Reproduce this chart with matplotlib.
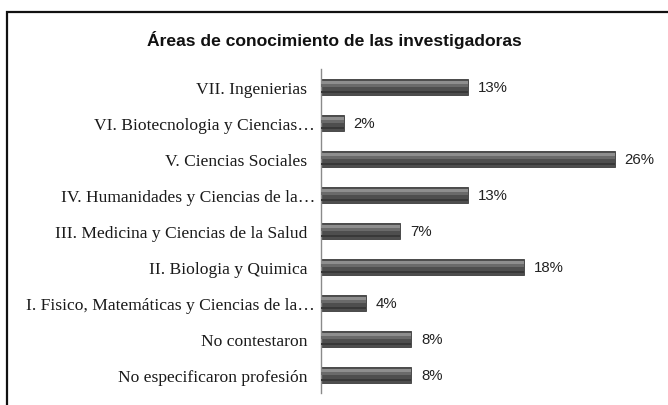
import matplotlib
matplotlib.use("Agg")
import matplotlib.pyplot as plt
from matplotlib.patches import Rectangle
from matplotlib.transforms import ScaledTranslation
import numpy as np

categories = [
    "VII. Ingenierias",
    "VI. Biotecnologia y Ciencias…",
    "V. Ciencias Sociales",
    "IV. Humanidades y Ciencias de la…",
    "III. Medicina y Ciencias de la Salud",
    "II. Biologia y Quimica",
    "I. Fisico, Matemáticas y Ciencias de la…",
    "No contestaron",
    "No especificaron profesión",
]
values = [13, 2, 26, 13, 7, 18, 4, 8, 8]
value_labels = ["13%", "2%", "26%", "13%", "7%", "18%", "4%", "8%", "8%"]
title = "Áreas de conocimiento de las investigadoras"

W, H = 668, 406
fig = plt.figure(figsize=(W / 100, H / 100), dpi=100)
fig.patch.set_facecolor("white")

# outer frame (extends past right/bottom edges as in reference)
fig.add_artist(Rectangle((7 / W, -0.05), 1.2, (H - 13) / H + 0.05,
                         transform=fig.transFigure, fill=False,
                         edgecolor="#111111", linewidth=1.6))

ax_left, ax_right = 321, 660
ax_top, ax_bottom = 70, 394
ax = fig.add_axes([ax_left / W, 1 - ax_bottom / H,
                   (ax_right - ax_left) / W, (ax_bottom - ax_top) / H])
ax.set_facecolor("none")

y = np.arange(len(categories))
bh = 0.42
# base bar
ax.barh(y, values, height=bh, color="#4e4e4e", edgecolor="#3c3c3c",
        linewidth=0.6, zorder=2)
# gradient-like highlight layers
ax.barh(y - bh * 0.30, values, height=bh * 0.20, color="#8e8e8e",
        edgecolor="none", zorder=3)
ax.barh(y - bh * 0.12, values, height=bh * 0.18, color="#6a6a6a",
        edgecolor="none", zorder=3)
ax.barh(y + bh * 0.32, values, height=bh * 0.14, color="#383838",
        edgecolor="none", zorder=3)

ax.set_xlim(0, 30)
ax.set_ylim(len(categories) - 0.5, -0.5)

for s in ["top", "right", "bottom"]:
    ax.spines[s].set_visible(False)
ax.spines["left"].set_color("#8a8a8a")
ax.spines["left"].set_linewidth(1.0)
ax.set_xticks([])
ax.set_yticks(y)
ax.set_yticklabels(categories, family="Liberation Serif", fontsize=12.6,
                   color="#1a1a1a")
ax.tick_params(axis="y", length=0, pad=10)
# truncated labels sit closer to the axis, as in the reference
for t in ax.get_yticklabels():
    if t.get_text().endswith("…"):
        t.set_transform(t.get_transform() +
                        ScaledTranslation(8 / 100, 0, fig.dpi_scale_trans))

for yi, v, lab in zip(y, values, value_labels):
    ax.annotate(lab, (v, yi), xytext=(7, 0), textcoords="offset points",
                va="center", ha="left", family="Liberation Sans",
                fontsize=10.8, color="#222222")

fig.text(0.5, 1 - 40 / H, title, ha="center", va="center",
         family="Liberation Sans", fontsize=12.6, fontweight="bold",
         color="#111111")

fig.savefig("out.png", dpi=100)
